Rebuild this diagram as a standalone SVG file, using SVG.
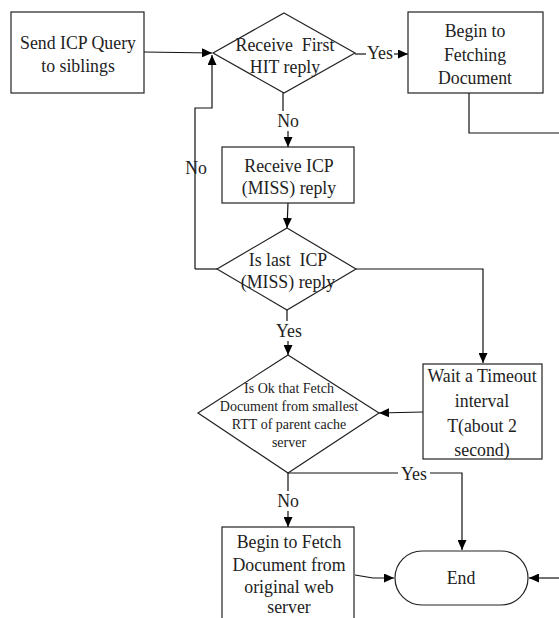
<svg xmlns="http://www.w3.org/2000/svg" width="559" height="618" viewBox="0 0 559 618">
<defs>
<marker id="ah" markerUnits="userSpaceOnUse" markerWidth="10" markerHeight="9" refX="10" refY="4.5" orient="auto" viewBox="0 0 10 9">
<path d="M0,0 L10,4.5 L0,9 z" fill="#000"/>
</marker>
<style>
.shape{fill:#fff;stroke:#222;stroke-width:1.2}
.line{fill:none;stroke:#111;stroke-width:1.2}
.arr{fill:none;stroke:#111;stroke-width:1.2;marker-end:url(#ah)}
text{font-size:17.8px;fill:#222;text-anchor:middle}
.sm{font-size:14px}
</style>
</defs>
<rect width="559" height="618" fill="#fff"/>
<g id="connectors">
<path class="arr" d="M144,52 L212,53"/>
<path class="arr" d="M195,269 L195,108 L212,108 L212,55"/>
<path class="line" d="M217,269 L195,269"/>
<path class="line" d="M355,54 L366,54"/>
<path class="arr" d="M394,54 L408,54"/>
<path class="line" d="M469,93 L469,133 L559,133"/>
<path class="line" d="M283,93 L283,111"/>
<path class="arr" d="M288,131 L288,147"/>
<path class="arr" d="M288,203 L287,228"/>
<path class="arr" d="M356,269 L483,269 L483,363"/>
<path class="line" d="M287,310 L287,321"/>
<path class="arr" d="M288,341 L288,355"/>
<path class="arr" d="M423,412 L379,413"/>
<path class="line" d="M288,473 L398,473"/>
<path class="arr" d="M430,473 L462,473 L462,550"/>
<path class="line" d="M288,473 L288,491"/>
<path class="arr" d="M288,511 L288,527"/>
<path class="arr" d="M355,575 L373,578 L394,578"/>
<path class="arr" d="M559,578 L529,578"/>
</g>
<g font-family="Liberation Serif, serif">
<g id="labels">
<text x="380" y="59">Yes</text>
<text x="288" y="127">No</text>
<text x="196" y="174">No</text>
<text x="289" y="337">Yes</text>
<text x="414" y="480">Yes</text>
<text x="288" y="507">No</text>
</g>
<g id="send">
<rect class="shape" x="11" y="12" width="133" height="81"/>
<text x="78" y="49">Send ICP Query</text>
<text x="78" y="72">to siblings</text>
</g>
<g id="first-hit">
<path class="shape" d="M284,13 L355,53 L284,93 L213,53 z"/>
<text x="285" y="51" xml:space="preserve">Receive  First</text>
<text x="285" y="73">HIT reply</text>
</g>
<g id="fetching">
<rect class="shape" x="408" y="12" width="135" height="81"/>
<text x="475" y="37">Begin to</text>
<text x="475" y="61">Fetching</text>
<text x="475" y="84">Document</text>
</g>
<g id="miss">
<rect class="shape" x="222" y="147" width="132" height="56"/>
<text x="289" y="172">Receive ICP</text>
<text x="289" y="194">(MISS) reply</text>
</g>
<g id="last">
<path class="shape" d="M287,228 L356,269 L287,310 L217,269 z"/>
<text x="288" y="266" xml:space="preserve">Is last  ICP</text>
<text x="288" y="288">(MISS) reply</text>
</g>
<g id="timeout">
<rect class="shape" x="423" y="364" width="119" height="95"/>
<text x="482" y="382">Wait a Timeout</text>
<text x="482" y="407">interval</text>
<text x="482" y="432">T(about 2</text>
<text x="482" y="456">second)</text>
</g>
<g id="ok">
<path class="shape" d="M288,355 L379,413 L288,473 L198,413 z"/>
<text class="sm" x="289" y="393">Is Ok that Fetch</text>
<text class="sm" x="289" y="411">Document from smallest</text>
<text class="sm" x="289" y="429">RTT of parent cache</text>
<text class="sm" x="289" y="447">server</text>
</g>
<g id="origin">
<rect class="shape" x="222" y="527" width="132" height="100"/>
<text x="289" y="548">Begin to Fetch</text>
<text x="289" y="571">Document from</text>
<text x="289" y="593">original web</text>
<text x="289" y="613">server</text>
</g>
<g id="end">
<rect class="shape" x="395" y="551" width="133" height="54" rx="27" ry="27"/>
<text x="461" y="584">End</text>
</g>
</g>
</svg>
